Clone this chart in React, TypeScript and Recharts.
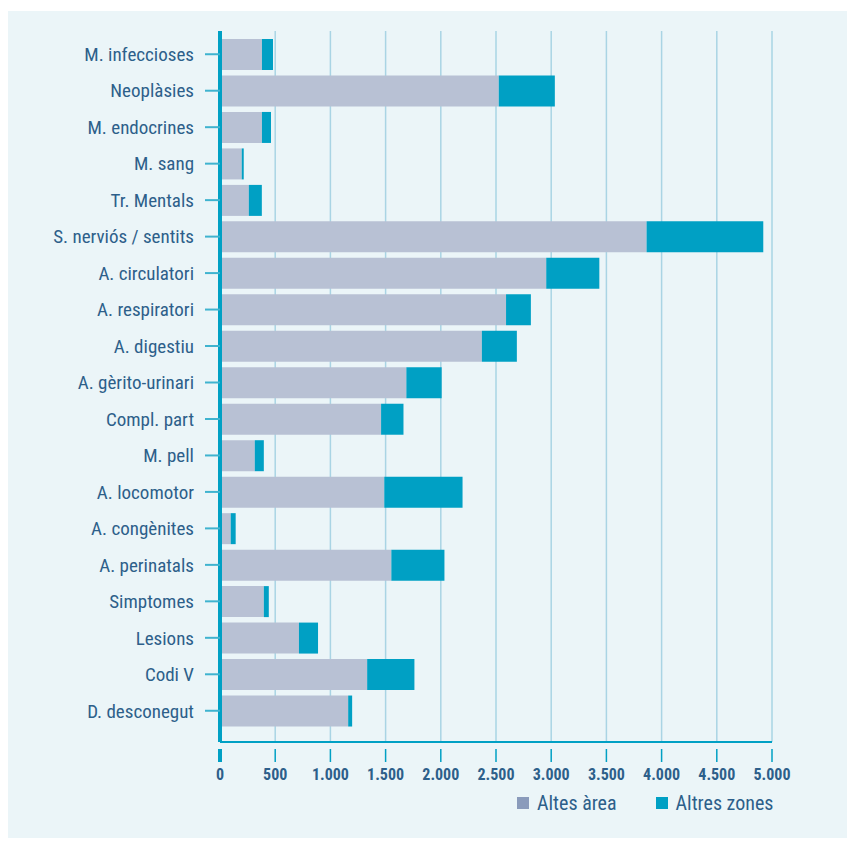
import React from 'react';
import { BarChart, Bar, XAxis, YAxis, CartesianGrid } from 'recharts';

const categories: string[] = [
  'M. infeccioses', 'Neoplàsies', 'M. endocrines', 'M. sang', 'Tr. Mentals',
  'S. nerviós / sentits', 'A. circulatori', 'A. respiratori', 'A. digestiu',
  'A. gèrito-urinari', 'Compl. part', 'M. pell', 'A. locomotor', 'A. congènites',
  'A. perinatals', 'Simptomes', 'Lesions', 'Codi V', 'D. desconegut',
];

const altesArea: number[] = [
  380, 2525, 380, 197, 261, 3864, 2955, 2591, 2372, 1688, 1459, 315, 1488, 97,
  1552, 397, 715, 1333, 1161,
];

const altresZones: number[] = [
  100, 508, 82, 18, 118, 1057, 481, 225, 317, 320, 203, 82, 709, 45, 481, 45,
  173, 428, 36,
];

const xTicks: number[] = [0, 500, 1000, 1500, 2000, 2500, 3000, 3500, 4000, 4500, 5000];

const data = categories.map((name, i) => ({
  name,
  altes: altesArea[i],
  altres: altresZones[i],
}));

const TEAL = '#00a0c4';
const GREY = '#b8c1d4';
const TEXT = '#2d5f8a';
const FONT = '"Liberation Sans Narrow", "Roboto Condensed", "DejaVu Sans Condensed", sans-serif';

const fmt = (v: number): string => v.toString().replace(/\B(?=(\d{3})+(?!\d))/g, '.');

// draws tick line + label for the x axis; 0 gets the thick axis stroke
const XTick = (props: any) => {
  const { x, y, payload } = props;
  const v = payload.value as number;
  return (
    <g>
      <line
        x1={x} x2={x} y1={y - 1} y2={y + 12}
        stroke={TEAL}
        strokeWidth={v === 0 ? 4 : 1.5}
      />
      <text
        x={x} y={y + 30}
        textAnchor="middle"
        fill={TEXT}
        fontFamily={FONT}
        fontWeight="bold"
        fontSize={16}
      >
        {fmt(v)}
      </text>
    </g>
  );
};

export default (): React.ReactElement => {
  return (
    <div style={{ position: 'relative', width: 855, height: 841, margin: '-8px 0 0 -8px', background: '#fff' }}>
      <div
        style={{
          position: 'absolute', left: 4, top: 11, width: 847, height: 827,
          background: '#ebf5f8',
        }}
      />
      <div style={{ position: 'absolute', left: 0, top: 0 }}>
        <BarChart
          width={855}
          height={841}
          data={data}
          layout="vertical"
          margin={{ top: 31, right: 83, bottom: 69, left: 0 }}
        >
          <CartesianGrid horizontal={false} stroke="#a9d4e4" strokeWidth={1.5} />
          <XAxis
            type="number"
            domain={[0, 5000]}
            ticks={xTicks}
            height={30}
            axisLine={{ stroke: TEAL, strokeWidth: 2 }}
            tickLine={false}
            tick={<XTick />}
            interval={0}
          />
          <YAxis
            type="category"
            dataKey="name"
            width={220}
            interval={0}
            padding={{ top: 5, bottom: 13 }}
            axisLine={{ stroke: TEAL, strokeWidth: 4 }}
            tickLine={{ stroke: '#3fb3cf', strokeWidth: 2 }}
            tickSize={15}
            tickMargin={11}
            tick={{ fill: TEXT, fontFamily: FONT, fontSize: 19 }}
          />
          <Bar dataKey="altes" stackId="a" fill={GREY} barSize={31} isAnimationActive={false} />
          <Bar dataKey="altres" stackId="a" fill={TEAL} barSize={31} isAnimationActive={false} />
        </BarChart>
      </div>
      <div
        style={{
          position: 'absolute', left: 517, top: 792, display: 'flex', alignItems: 'center',
          fontFamily: FONT, fontSize: 20, color: TEXT, lineHeight: '22px',
        }}
      >
        <span style={{ width: 12, height: 12, background: '#8a9bbb', display: 'inline-block' }} />
        <span style={{ marginLeft: 8 }}>Altes àrea</span>
        <span style={{ width: 12, height: 12, background: TEAL, display: 'inline-block', marginLeft: 39 }} />
        <span style={{ marginLeft: 8 }}>Altres zones</span>
      </div>
    </div>
  );
};
